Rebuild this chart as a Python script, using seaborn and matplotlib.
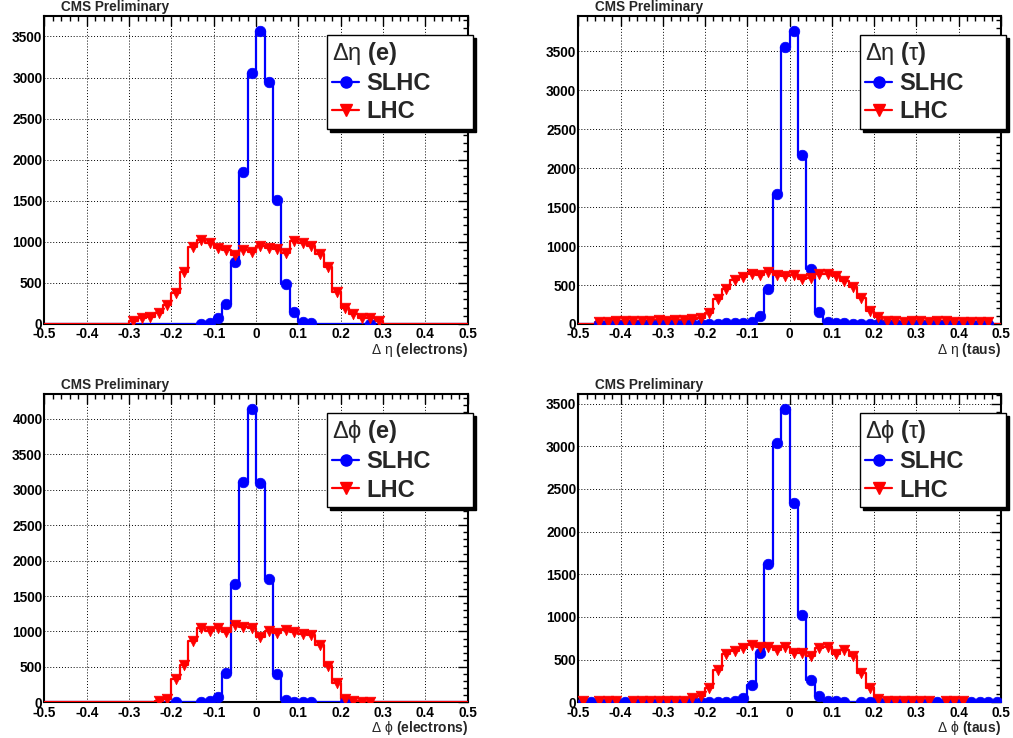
import numpy as np
import pandas as pd
import matplotlib
matplotlib.use("Agg")
import matplotlib.pyplot as plt
import seaborn as sns
from matplotlib.lines import Line2D
from matplotlib.ticker import FixedLocator, MultipleLocator

sns.set_style("white")
plt.rcParams["font.family"] = ["Liberation Sans", "DejaVu Sans"]
plt.rcParams["font.weight"] = "bold"
plt.rcParams["mathtext.fontset"] = "custom"
plt.rcParams["mathtext.rm"] = "Liberation Sans:regular"
plt.rcParams["mathtext.bf"] = "Liberation Sans:bold"
plt.rcParams["mathtext.it"] = "Liberation Sans:italic"

# 50 bins of width 0.02 between -0.5 and 0.5
n_bins = 50
x_range = (-0.5, 0.5)
bin_edges = np.linspace(x_range[0], x_range[1], n_bins + 1)
bin_centers = 0.5 * (bin_edges[:-1] + bin_edges[1:])

x_tick_values = [-0.5, -0.4, -0.3, -0.2, -0.1, 0.0, 0.1, 0.2, 0.3, 0.4, 0.5]
x_tick_labels = ["-0.5", "-0.4", "-0.3", "-0.2", "-0.1", "0", "0.1", "0.2", "0.3", "0.4", "0.5"]

# Delta eta, electrons
deta_e_slhc = [0, 0, 0, 0, 0, 0, 0, 0, 0, 0,
               0, 0, 0, 0, 0, 0, 0, 0, 5, 15,
               77, 240, 759, 1855, 3060, 3570, 2948, 1514, 483, 142,
               28, 8, 0, 0, 0, 0, 0, 0, 3, 0,
               0, 0, 0, 0, 0, 0, 0, 0, 0, 0]
deta_e_lhc = [0, 0, 0, 0, 0, 0, 0, 0, 0, 0,
              40, 70, 80, 130, 227, 373, 630, 942, 1023, 983,
              922, 901, 836, 901, 881, 950, 922, 914, 861, 1015,
              983, 950, 853, 690, 386, 191, 122, 69, 69, 40,
              0, 0, 0, 0, 0, 0, 0, 0, 0, 0]

# Delta eta, taus
deta_tau_slhc = [0, 0, 5, 4, 3, 4, 5, 4, 3, 5,
                 4, 5, 4, 5, 6, 5, 6, 8, 10, 14,
                 30, 103, 446, 1671, 3552, 3766, 2168, 703, 159, 30,
                 10, 7, 5, 5, 4, 5, 5, 4, 5, 5,
                 4, 5, 4, 5, 5, 4, 5, 4, 5, 0]
deta_tau_lhc = [0, 0, 25, 28, 35, 38, 42, 40, 42, 45,
                44, 47, 50, 64, 73, 137, 326, 446, 566, 608,
                643, 634, 673, 630, 621, 626, 574, 587, 643, 643,
                617, 553, 480, 338, 171, 86, 43, 32, 30, 35,
                33, 30, 35, 32, 30, 28, 30, 25, 22, 0]

# Delta phi, electrons
dphi_e_slhc = [0, 0, 0, 0, 0, 0, 0, 0, 0, 0,
               0, 0, 0, 0, 0, 3, 0, 0, 10, 19,
               70, 419, 1666, 3115, 4141, 3092, 1741, 395, 28, 10,
               10, 10, 0, 0, 0, 3, 0, 0, 0, 0,
               0, 0, 0, 0, 0, 0, 0, 0, 0, 0]
dphi_e_lhc = [0, 0, 0, 0, 0, 0, 0, 0, 0, 0,
              0, 0, 0, 19, 47, 329, 532, 861, 1045, 1002,
              1045, 998, 1087, 1068, 1045, 927, 1002, 979, 1016, 993,
              960, 951, 805, 513, 268, 47, 19, 10, 10, 0,
              0, 0, 0, 0, 0, 0, 0, 0, 0, 0]

# Delta phi, taus
dphi_tau_slhc = [5, 5, 4, 5, 4, 6, 5, 4, 5, 4,
                 5, 6, 5, 4, 5, 6, 6, 8, 12, 47,
                 203, 574, 1617, 3043, 3437, 2332, 1020, 262, 74, 20,
                 10, 8, 0, 6, 5, 5, 4, 5, 4, 5,
                 4, 5, 4, 5, 4, 5, 5, 6, 5, 6]
dphi_tau_lhc = [10, 0, 10, 12, 10, 0, 12, 10, 14, 12,
                15, 14, 18, 47, 74, 168, 379, 563, 602, 633,
                668, 645, 652, 613, 645, 582, 574, 543, 633, 645,
                563, 613, 543, 340, 172, 40, 20, 12, 10, 12,
                10, 10, 0, 10, 10, 10, 0, 0, 0, 0]

panels = [
    (deta_e_slhc, deta_e_lhc,
     r"$\mathrm{\Delta\eta}$ $\mathbf{(e)}$",
     r"$\mathrm{\Delta\ \eta}$ $\mathbf{(electrons)}$"),
    (deta_tau_slhc, deta_tau_lhc,
     r"$\mathrm{\Delta\eta}$ $\mathbf{(}\mathrm{\tau}\mathbf{)}$",
     r"$\mathrm{\Delta\ \eta}$ $\mathbf{(taus)}$"),
    (dphi_e_slhc, dphi_e_lhc,
     r"$\mathrm{\Delta\phi}$ $\mathbf{(e)}$",
     r"$\mathrm{\Delta\ \phi}$ $\mathbf{(electrons)}$"),
    (dphi_tau_slhc, dphi_tau_lhc,
     r"$\mathrm{\Delta\phi}$ $\mathbf{(}\mathrm{\tau}\mathbf{)}$",
     r"$\mathrm{\Delta\ \phi}$ $\mathbf{(taus)}$"),
]

axes_rects = [
    (0.0439, 0.5610, 0.4178, 0.4173),
    (0.5709, 0.5610, 0.4170, 0.4173),
    (0.0439, 0.0484, 0.4178, 0.4173),
    (0.5709, 0.0484, 0.4170, 0.4173),
]

BLUE = "#0000ff"
RED = "#ff0000"

fig = plt.figure(figsize=(10.13, 7.38), dpi=100)
fig.patch.set_facecolor("white")

for (slhc, lhc, header, xlabel), rect in zip(panels, axes_rects):
    ax = fig.add_axes(rect)
    df = pd.DataFrame({"x": bin_centers, "SLHC": slhc, "LHC": lhc})

    for col, color, marker, msize in [("SLHC", BLUE, "o", 58), ("LHC", RED, "v", 58)]:
        sns.histplot(data=df, x="x", weights=col, bins=n_bins, binrange=x_range,
                     element="step", fill=False, color=color, linewidth=1.6,
                     ax=ax, zorder=3)
        nz = df[df[col] > 0]
        sns.scatterplot(data=nz, x="x", y=col, marker=marker, color=color, s=msize,
                        edgecolor=color, linewidth=0.5, ax=ax, zorder=4, legend=False)

    ymax = 1.05 * max(max(slhc), max(lhc))
    ax.set_xlim(*x_range)
    ax.set_ylim(0, ymax)
    ax.xaxis.set_major_locator(FixedLocator(x_tick_values))
    ax.set_xticklabels(x_tick_labels)
    ax.xaxis.set_minor_locator(MultipleLocator(0.02))
    ax.yaxis.set_major_locator(MultipleLocator(500))
    ax.yaxis.set_minor_locator(MultipleLocator(100))
    ax.tick_params(which="both", direction="in", top=True, right=True,
                   colors="black", width=1.0)
    ax.tick_params(which="major", length=7, labelsize=9.8, pad=2.5)
    ax.tick_params(axis="y", which="major", pad=1.5)
    ax.tick_params(which="minor", length=3.5)
    for lab in ax.get_xticklabels() + ax.get_yticklabels():
        lab.set_fontweight("bold")

    ax.grid(True, which="major", color="black", linestyle=(0, (1, 2)), linewidth=0.7)
    ax.set_axisbelow(True)
    for sp in ax.spines.values():
        sp.set_color("black")
        sp.set_linewidth(1.5)

    ax.set_ylabel("")
    ax.set_xlabel(xlabel, fontsize=10, fontweight="normal", ha="right", va="top")
    ax.xaxis.set_label_coords(1.0, -0.055)

    ax.text(0.039, 1.008, "CMS Preliminary", transform=ax.transAxes,
            fontsize=9.8, fontweight="bold", ha="left", va="bottom")

    handles = [
        Line2D([], [], color=BLUE, lw=1.6, marker="o", markersize=8, label="SLHC"),
        Line2D([], [], color=RED, lw=1.6, marker="v", markersize=8, label="LHC"),
    ]
    leg = ax.legend(handles=handles, loc="upper left",
                    bbox_to_anchor=(0.667, 0.634, 0.346, 0.305), mode="expand",
                    borderaxespad=0, title=header, alignment="left",
                    prop={"size": 17, "weight": "bold"},
                    title_fontproperties={"size": 17, "weight": "normal"},
                    frameon=True, fancybox=False, edgecolor="black",
                    framealpha=1, handlelength=1.15, handletextpad=0.3,
                    labelspacing=0.22, borderpad=0.22,
                    shadow={"ox": 2.2, "oy": -2.2, "facecolor": "black",
                            "edgecolor": "black", "alpha": 1})
    leg.get_frame().set_linewidth(1.0)
    leg.set_zorder(10)

fig.savefig("out.png", dpi=100, facecolor="white")
